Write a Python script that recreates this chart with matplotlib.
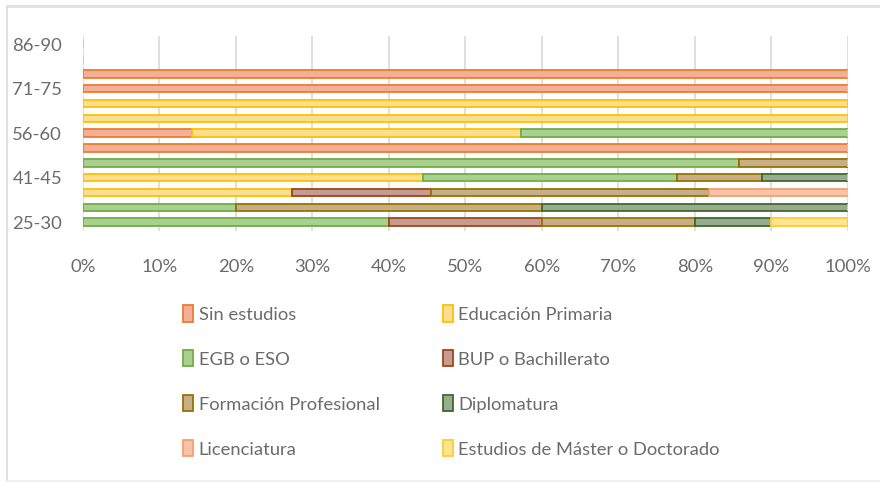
import matplotlib.pyplot as plt
import numpy as np
from matplotlib.patches import Patch
from matplotlib.ticker import PercentFormatter

# age groups, bottom to top
ages = ["25-30", "31-35", "36-40", "41-45", "46-50", "51-55", "56-60",
        "61-65", "66-70", "71-75", "76-80", "81-85", "86-90"]

# share (%) of each education level per age group
sin_estudios = [0, 0, 0, 0, 0, 100, 14.3, 0, 0, 100, 100, 0, 0]
primaria = [0, 0, 27.3, 44.4, 0, 0, 42.9, 100, 100, 0, 0, 0, 0]
egb_eso = [40, 20, 0, 33.3, 85.7, 0, 42.8, 0, 0, 0, 0, 0, 0]
bup = [20, 0, 18.2, 0, 0, 0, 0, 0, 0, 0, 0, 0, 0]
fp = [20, 40, 36.3, 11.1, 14.3, 0, 0, 0, 0, 0, 0, 0, 0]
diplomatura = [10, 40, 0, 11.2, 0, 0, 0, 0, 0, 0, 0, 0, 0]
licenciatura = [0, 0, 18.2, 0, 0, 0, 0, 0, 0, 0, 0, 0, 0]
master = [10, 0, 0, 0, 0, 0, 0, 0, 0, 0, 0, 0, 0]

series = [
    ("Sin estudios", sin_estudios, "#F4B096", "#ED7D31"),
    ("Educación Primaria", primaria, "#FADF92", "#FFC000"),
    ("EGB o ESO", egb_eso, "#A9D08E", "#70AD47"),
    ("BUP o Bachillerato", bup, "#C89A94", "#9E480E"),
    ("Formación Profesional", fp, "#C6AE86", "#997300"),
    ("Diplomatura", diplomatura, "#98AA90", "#43682B"),
    ("Licenciatura", licenciatura, "#F8C3A6", "#F4A070"),
    ("Estudios de Máster o Doctorado", master, "#FFE590", "#FFCC33"),
]

FONT = ["Lato", "DejaVu Sans"]
TXT = "#6b6b6b"
plt.rcParams["font.family"] = FONT

fig = plt.figure(figsize=(8.8, 4.82), dpi=100)
ax = fig.add_axes([0.0943, 0.5207, 0.8693, 0.4046])

y = np.arange(len(ages))
left = np.zeros(len(ages))
handles = []
for name, vals, fill, edge in series:
    vals = np.array(vals, dtype=float)
    ax.barh(y, vals, left=left, height=0.5, color=fill, edgecolor=edge,
            linewidth=1.3, zorder=2)
    left += vals
    handles.append(Patch(facecolor=fill, edgecolor=edge, linewidth=1.3, label=name))

ax.set_xlim(0, 100)
ax.set_ylim(-0.6, 12.55)
ax.set_xticks(np.arange(0, 101, 10))
ax.xaxis.set_major_formatter(PercentFormatter(decimals=0))
ax.set_yticks(y[::3])
ax.set_yticklabels(ages[::3])
ax.grid(axis="x", color="#d9d9d9", linewidth=1.2, zorder=0)
for s in ax.spines.values():
    s.set_visible(False)
ax.tick_params(length=0, labelsize=13.3, colors=TXT)
ax.tick_params(axis="x", pad=20)
ax.tick_params(axis="y", pad=15)

# legend: two columns placed separately
for col, hs in enumerate([handles[0::2], handles[1::2]]):
    x0 = [0.208, 0.503][col]
    fig.legend(handles=hs, loc="upper left", bbox_to_anchor=(x0, 0.367),
               frameon=False, fontsize=13.2, labelcolor=TXT,
               handlelength=0.55, handleheight=1.0, handletextpad=0.3,
               labelspacing=1.5, borderaxespad=0, borderpad=0)

# outer chart frame
fig.add_artist(plt.Line2D([0.008, 1.0], [0.988, 0.988], color="#e2e0dc",
                          linewidth=2, transform=fig.transFigure))
fig.add_artist(plt.Line2D([0.008, 0.008], [0.003, 0.988], color="#dcdcdc",
                          linewidth=1.2, transform=fig.transFigure))
fig.add_artist(plt.Line2D([0.008, 1.0], [0.003, 0.003], color="#eeeeee",
                          linewidth=1.2, transform=fig.transFigure))

fig.savefig("out.png", dpi=100)
